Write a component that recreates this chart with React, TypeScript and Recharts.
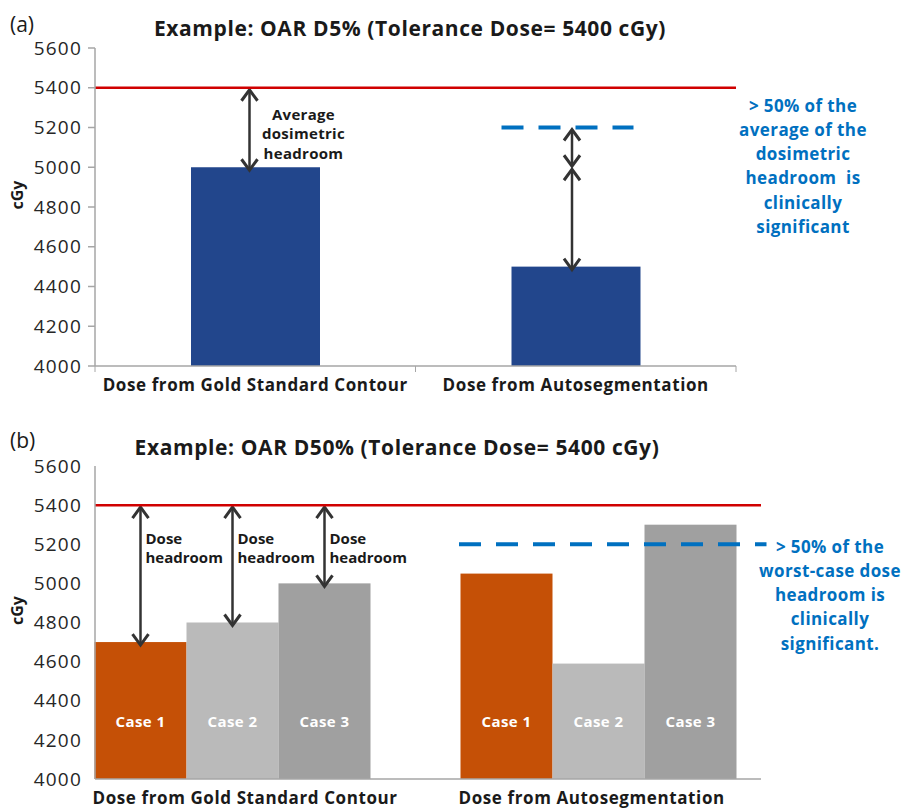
import React from 'react';
import { BarChart, Bar, XAxis, YAxis, ReferenceLine } from 'recharts';

const categories = ['Dose from Gold Standard Contour', 'Dose from Autosegmentation'];
const doseTicks = [4000, 4200, 4400, 4600, 4800, 5000, 5200, 5400, 5600];
const toleranceDose = 5400;
const significanceDose = 5200;

// (a) OAR D5%, average dose for each contour source
const d5Average = [5000, 4500];

// (b) OAR D50%, one bar per case
const caseNames = ['Case 1', 'Case 2', 'Case 3'];
const case1Dose = [4700, 5050];
const case2Dose = [4800, 4590];
const case3Dose = [5000, 5300];

const titleA = 'Example: OAR D5% (Tolerance Dose= 5400 cGy)';
const titleB = 'Example: OAR D50% (Tolerance Dose= 5400 cGy)';
const noteA = ['> 50% of the', 'average of the', 'dosimetric', 'headroom  is', 'clinically', 'significant'];
const noteB = ['> 50% of the', 'worst-case dose', 'headroom is', 'clinically', 'significant.'];

const dataA = categories.map((name, i) => ({ name, dose: d5Average[i] }));
const dataB = categories.map((name, i) => ({
  name,
  case1: case1Dose[i],
  case2: case2Dose[i],
  case3: case3Dose[i],
}));

const FONT = '"Open Sans", sans-serif';
const AXIS_GREY = '#A6A6A6';
const TEXT = '#1a1a1a';
const RED = '#D00000';
const NOTE_BLUE = '#0070C0';
const ARROW = '#333333';
const doseMin = doseTicks[0];

// bar geometry -> value-to-pixel mapping (bars start at the bottom of the domain)
const scaleFrom = (y: number, height: number, value: number) => (v: number) =>
  y + height - ((v - doseMin) * height) / (value - doseMin);

const Arrow = ({ x, top, bottom }: { x: number; top: number; bottom: number }) => {
  const t = top + 2;
  const b = bottom + 3;
  return (
    <g stroke={ARROW} strokeWidth={3} fill="none" strokeLinejoin="miter">
      <line x1={x} y1={t + 1} x2={x} y2={b - 1} strokeWidth={2.5} />
      <polyline points={`${x - 8},${t + 11} ${x},${t} ${x + 8},${t + 11}`} />
      <polyline points={`${x - 8},${b - 11} ${x},${b} ${x + 8},${b - 11}`} />
    </g>
  );
};

const DashedLevel = ({ x1, x2, y }: { x1: number; x2: number; y: number }) => (
  <line x1={x1} x2={x2} y1={y} y2={y} stroke={NOTE_BLUE} strokeWidth={4} strokeDasharray="22 15" />
);

const D5Shape = (props: any) => {
  const { x, y, width, height, index, payload } = props;
  const toY = scaleFrom(y, height, payload.dose);
  const cx = x + width / 2;
  if (index === 0) {
    const tolY = toY(toleranceDose);
    const tx = cx + 48;
    return (
      <g>
        <rect x={x} y={y} width={width} height={height} fill="#22468C" />
        <Arrow x={cx - 6} top={tolY} bottom={y} />
        <g fontFamily={FONT} fontWeight={700} fontSize={15} letterSpacing={0.3} fill={TEXT} textAnchor="middle">
          <text x={tx} y={tolY + 26} dominantBaseline="central">Average</text>
          <text x={tx} y={tolY + 45} dominantBaseline="central">dosimetric</text>
          <text x={tx} y={tolY + 65} dominantBaseline="central">headroom</text>
        </g>
      </g>
    );
  }
  const sigY = toY(significanceDose);
  const refY = toY(d5Average[0]);
  return (
    <g>
      <rect x={x} y={y} width={width} height={height} fill="#22468C" />
      <DashedLevel x1={x - 10} x2={x + width - 7} y={sigY} />
      <Arrow x={cx - 4} top={sigY} bottom={refY - 4} />
      <Arrow x={cx - 4} top={refY} bottom={y} />
    </g>
  );
};

const caseShape = (caseIdx: number, key: string, color: string) => (props: any) => {
  const { x, y, width, height, index, payload } = props;
  const toY = scaleFrom(y, height, payload[key]);
  const cx = x + width / 2;
  const tolY = toY(toleranceDose);
  return (
    <g>
      <rect x={x} y={y} width={width} height={height} fill={color} />
      <text
        x={cx}
        y={y + height - 58}
        textAnchor="middle"
        dominantBaseline="central"
        fontFamily={FONT}
        fontWeight={700}
        fontSize={15}
        letterSpacing={0.4}
        fill="#ffffff"
      >
        {caseNames[caseIdx]}
      </text>
      {index === 0 && (
        <g>
          <Arrow x={cx} top={tolY} bottom={y} />
          <g fontFamily={FONT} fontWeight={700} fontSize={15} fill={TEXT}>
            <text x={cx + 5} y={tolY + 33} dominantBaseline="central">Dose</text>
            <text x={cx + 5} y={tolY + 52} dominantBaseline="central">headroom</text>
          </g>
        </g>
      )}
      {index === 1 && caseIdx === 2 && (
        <DashedLevel x1={x - 2 * width - 1.5} x2={x + width + 30} y={toY(significanceDose)} />
      )}
    </g>
  );
};

const TickA = ({ x, y, payload }: any) => (
  <g>
    <line x1={x - 160.25} x2={x - 160.25} y1={y} y2={y + 6} stroke={AXIS_GREY} />
    <line x1={x + 160.25} x2={x + 160.25} y1={y} y2={y + 6} stroke={AXIS_GREY} />
    <text x={x} y={y + 18} textAnchor="middle" dominantBaseline="central" fontFamily={FONT} fontWeight={700} fontSize={17} letterSpacing={0.6} fill={TEXT}>
      {payload.value}
    </text>
  </g>
);

const TickB = ({ x, y, payload }: any) => (
  <text x={x - 140} y={y + 18} textAnchor="start" dominantBaseline="central" fontFamily={FONT} fontWeight={700} fontSize={17} letterSpacing={0.6} fill={TEXT}>
    {payload.value}
  </text>
);

const CgyLabel = ({ viewBox }: any) => {
  const cy = viewBox.y + viewBox.height / 2 - 12;
  return (
    <text x={17} y={cy} transform={`rotate(-90, 17, ${cy})`} textAnchor="middle" dominantBaseline="central" fontFamily={FONT} fontWeight={700} fontSize={16} fill={TEXT}>
      cGy
    </text>
  );
};

const yTick = { fontFamily: FONT, fontSize: 19, letterSpacing: 1.2, fill: '#262626' };

const DoseAxis = (showTicks: boolean) => (
  <YAxis
    type="number"
    domain={[doseTicks[0], doseTicks[doseTicks.length - 1]]}
    ticks={doseTicks}
    interval={0}
    width={95}
    axisLine={{ stroke: AXIS_GREY, strokeWidth: 1.5 }}
    tickLine={showTicks ? { stroke: AXIS_GREY, strokeWidth: 1.5 } : false}
    tickSize={7}
    tickMargin={6}
    tick={yTick}
    label={<CgyLabel />}
  />
);

export default function App() {
  return (
    <div style={{ position: 'absolute', left: 0, top: 0, width: 904, height: 811, background: '#fff' }}>
      <div style={{ position: 'absolute', left: 0, top: 0 }}>
        <BarChart width={904} height={400} data={dataA} margin={{ top: 48, right: 168, bottom: 4, left: 0 }}>
          <XAxis
            dataKey="name"
            height={30}
            interval={0}
            tickSize={0}
            tickMargin={0}
            tickLine={false}
            axisLine={{ stroke: AXIS_GREY, strokeWidth: 1.5 }}
            tick={<TickA />}
          />
          {DoseAxis(true)}
          <ReferenceLine y={toleranceDose} stroke={RED} strokeWidth={2.5} />
          <Bar dataKey="dose" barSize={129} shape={<D5Shape />} isAnimationActive={false} />
        </BarChart>
      </div>
      <div style={{ position: 'absolute', left: 0, top: 400 }}>
        <BarChart width={904} height={411} data={dataB} margin={{ top: 66, right: 143, bottom: 4, left: 0 }} barGap={0}>
          <XAxis
            dataKey="name"
            height={28}
            interval={0}
            tickSize={0}
            tickMargin={0}
            tickLine={false}
            padding={{ left: -45.5, right: -20.5 }}
            axisLine={{ stroke: AXIS_GREY, strokeWidth: 1.5 }}
            tick={<TickB />}
          />
          {DoseAxis(false)}
          <ReferenceLine y={toleranceDose} stroke={RED} strokeWidth={2.5} />
          <Bar dataKey="case1" barSize={92} shape={caseShape(0, 'case1', '#C55006')} isAnimationActive={false} />
          <Bar dataKey="case2" barSize={92} shape={caseShape(1, 'case2', '#BABABA')} isAnimationActive={false} />
          <Bar dataKey="case3" barSize={92} shape={caseShape(2, 'case3', '#A0A0A0')} isAnimationActive={false} />
        </BarChart>
      </div>
      <svg width={904} height={811} style={{ position: 'absolute', left: 0, top: 0, pointerEvents: 'none' }}>
        <g fontFamily={FONT} fill={TEXT}>
          <text x={10} y={24} fontSize={21} dominantBaseline="central">(a)</text>
          <text x={410} y={28} fontSize={21} letterSpacing={0.6} fontWeight={700} textAnchor="middle" dominantBaseline="central">{titleA}</text>
          <text x={10} y={440} fontSize={21} dominantBaseline="central">(b)</text>
          <text x={397} y={447} fontSize={21} letterSpacing={0.6} fontWeight={700} textAnchor="middle" dominantBaseline="central">{titleB}</text>
        </g>
        <g fontFamily={FONT} fontWeight={700} fontSize={17} letterSpacing={0.4} fill={NOTE_BLUE} textAnchor="middle">
          {noteA.map((line, i) => (
            <text key={i} x={803} y={105 + i * 24.3} dominantBaseline="central" style={{ whiteSpace: 'pre' }}>{line}</text>
          ))}
          {noteB.map((line, i) => (
            <text key={i} x={830} y={546 + i * 24.3} dominantBaseline="central" style={{ whiteSpace: 'pre' }}>{line}</text>
          ))}
        </g>
      </svg>
    </div>
  );
}
